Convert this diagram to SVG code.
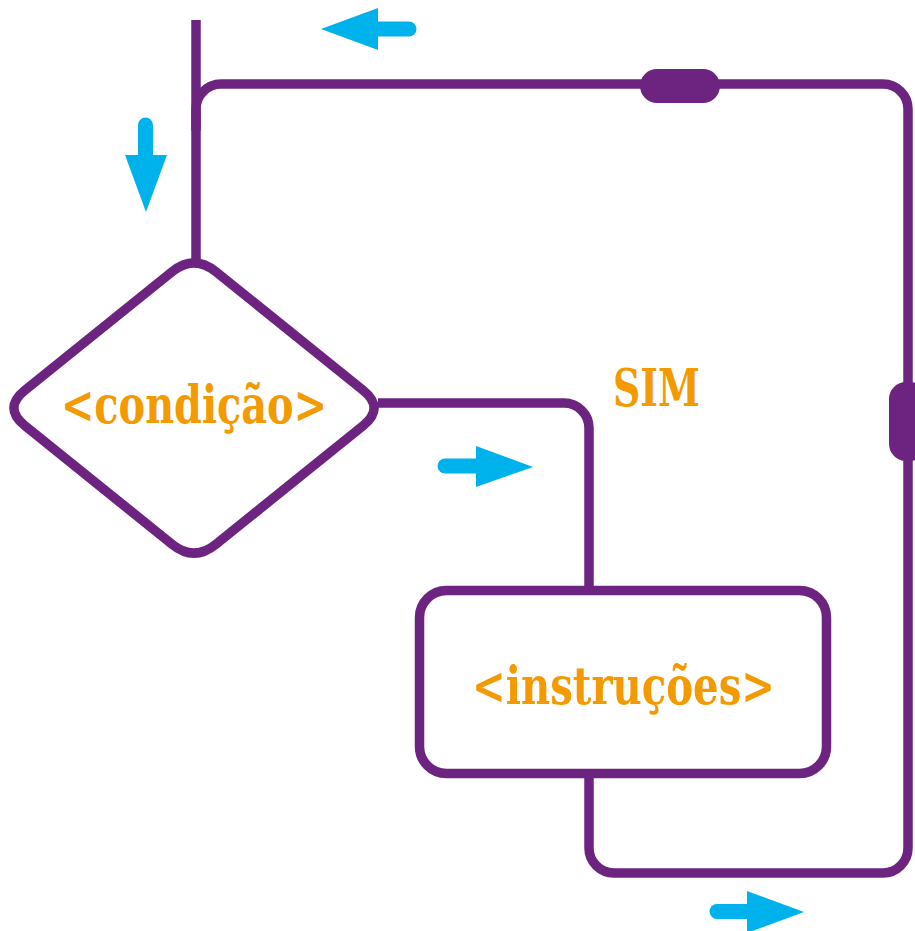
<svg xmlns="http://www.w3.org/2000/svg" width="915" height="931" viewBox="0 0 915 931">
<style>
.ln{fill:none;stroke:#6D2480;stroke-width:9.5;stroke-linejoin:round}
.pill{fill:#6D2480}
.lbl{font-family:"DejaVu Serif Condensed","DejaVu Serif",serif;font-weight:bold;fill:#F39A00;font-size:52px}
.arr{fill:#00B2EB}
.sh{stroke:#00B2EB;stroke-width:15;stroke-linecap:round;fill:none}
</style>
<rect width="915" height="931" fill="#fff"/>
<g id="connectors">
<path class="ln" d="M196,20 V262"/>
<path class="ln" d="M196,131 V109 A25,25 0 0 1 221,84 H883 A25,25 0 0 1 908,109 V848 A25,25 0 0 1 883,873 H614 A25,25 0 0 1 589,848 V778"/>
<path class="ln" d="M378,403 H564 A25,25 0 0 1 589,428 V590"/>
<rect class="pill" x="640" y="69" width="80" height="34" rx="17"/>
<rect class="pill" x="889" y="382" width="38" height="79" rx="17"/>
</g>
<g id="condicao">
<path class="ln" fill="#fff" d="M172.2,271.6 Q194,254 215.8,271.6 L363.2,390.4 Q385,408 363.2,425.6 L215.8,544.4 Q194,562 172.2,544.4 L24.8,425.6 Q3,408 24.8,390.4 Z"/>
<text class="lbl" x="61" y="423" textLength="266" lengthAdjust="spacingAndGlyphs">&lt;condição&gt;</text>
</g>
<g id="instrucoes">
<rect class="ln" x="419.5" y="590.5" width="407" height="183" rx="27"/>
<text class="lbl" x="472" y="704" textLength="303" lengthAdjust="spacingAndGlyphs">&lt;instruções&gt;</text>
</g>
<g id="sim">
<text class="lbl" x="613" y="406" textLength="87" lengthAdjust="spacingAndGlyphs">SIM</text>
</g>
<g id="arrows">
<line class="sh" x1="370" y1="29" x2="409" y2="29"/>
<polygon class="arr" points="321,29 378,8 378,50"/>
<line class="sh" x1="145.5" y1="125" x2="145.5" y2="162"/>
<polygon class="arr" points="146,212 125,155 167,155"/>
<line class="sh" x1="445" y1="466" x2="484" y2="466"/>
<polygon class="arr" points="533,467 476,446 476,487"/>
<line class="sh" x1="717" y1="911.5" x2="755" y2="911.5"/>
<polygon class="arr" points="804,912 747,891 747,933"/>
</g>
</svg>
